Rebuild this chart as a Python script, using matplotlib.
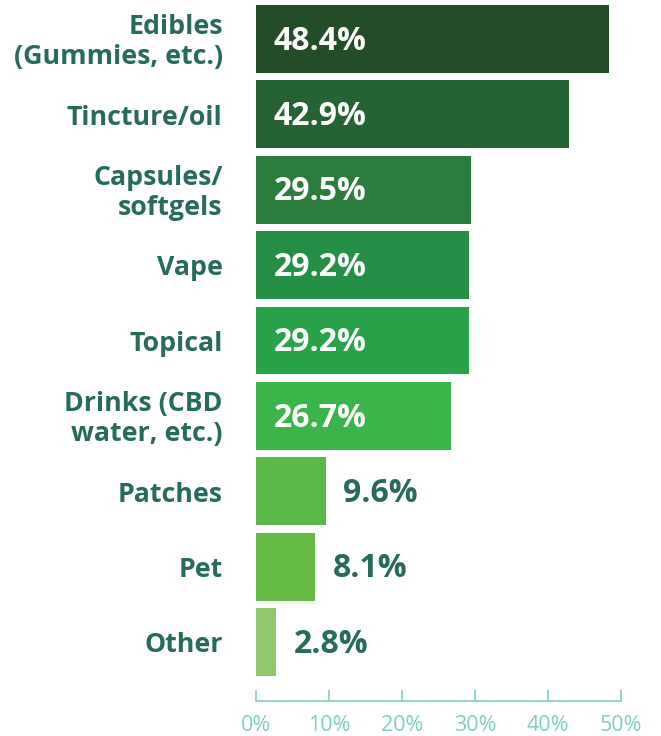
import matplotlib
matplotlib.use("Agg")
import matplotlib.pyplot as plt

# Product formats and share of respondents (%)
categories = [
    "Edibles\n(Gummies, etc.)",
    "Tincture/oil",
    "Capsules/\nsoftgels",
    "Vape",
    "Topical",
    "Drinks (CBD\nwater, etc.)",
    "Patches",
    "Pet",
    "Other",
]
values = [48.4, 42.9, 29.5, 29.2, 29.2, 26.7, 9.6, 8.1, 2.8]
bar_colors = [
    "#224d27", "#256335", "#2b7d3e", "#258f45", "#2aa24a",
    "#3bb44a", "#5ab849", "#66bb46", "#8fc86b",
]
x_ticks = [0, 10, 20, 30, 40, 50]
x_tick_labels = ["0%", "10%", "20%", "30%", "40%", "50%"]

label_color = "#276b5d"
axis_color = "#80cfc0"
inside_threshold = 20

fig = plt.figure(figsize=(6.61, 7.36), dpi=100)
ax = fig.add_axes([256 / 661, 1 - 676 / 736, 365 / 661, 671 / 736])

ypos = list(range(len(categories)))
ax.barh(ypos, values, height=0.9, color=bar_colors, edgecolor="none")
ax.set_ylim(len(categories) - 0.55, -0.45)
ax.set_xlim(0, 50)

# Category labels to the left of the bars
for y, name in zip(ypos, categories):
    ax.annotate(name, xy=(0, y), xycoords="data", xytext=(-24, -2.4),
                textcoords="offset points", ha="right", va="center",
                fontsize=19.3, fontweight="bold", family="Open Sans",
                color=label_color, linespacing=1.2)

# Value labels: inside the long bars, after the short ones
value_font = dict(fontsize=23, fontweight="bold", family="Open Sans")
for y, v in zip(ypos, values):
    text = f"{v:.1f}%"
    if v >= inside_threshold:
        ax.annotate(text, xy=(0, y), xytext=(12.5, -1.6), textcoords="offset points",
                    ha="left", va="center", color="white", **value_font)
    else:
        ax.annotate(text, xy=(v, y), xytext=(12.5, -1.6), textcoords="offset points",
                    ha="left", va="center", color=label_color, **value_font)

for side in ("top", "right", "left"):
    ax.spines[side].set_visible(False)
ax.spines["bottom"].set_position(("outward", 18))
ax.spines["bottom"].set_color(axis_color)
ax.spines["bottom"].set_linewidth(1.2)
ax.set_yticks([])
ax.set_xticks(x_ticks)
ax.set_xticklabels(x_tick_labels, family="Open Sans", fontsize=15.5, color=axis_color)
ax.tick_params(axis="x", direction="in", length=8, width=1.2, color=axis_color, pad=10)

fig.savefig("out.png", dpi=100)
